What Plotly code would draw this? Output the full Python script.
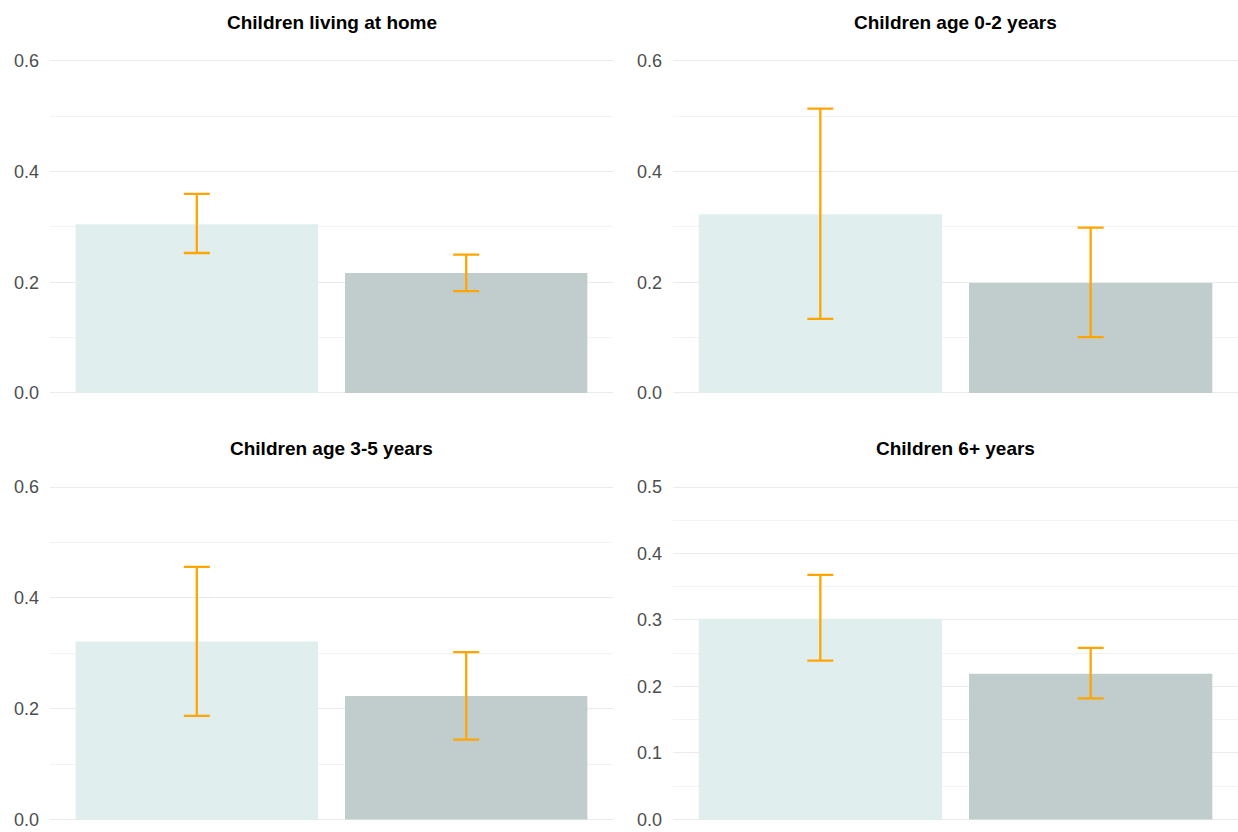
import plotly.graph_objects as go

titles = ["Children living at home", "Children age 0-2 years",
          "Children age 3-5 years", "Children 6+ years"]
groups = ["Group A", "Group B"]
means = [[0.305, 0.217], [0.323, 0.199], [0.321, 0.223], [0.302, 0.219]]
lowers = [[0.253, 0.184], [0.134, 0.101], [0.187, 0.144], [0.239, 0.182]]
uppers = [[0.360, 0.250], [0.514, 0.299], [0.456, 0.302], [0.368, 0.258]]
y_max = [0.6, 0.6, 0.6, 0.5]
major_dtick = [0.2, 0.2, 0.2, 0.1]
minor_dtick = [0.1, 0.1, 0.1, 0.05]

bar_colors = ["#E0EEEE", "#C1CDCD"]
err_color = "#FFA500"

W, H = 1238, 832
x_dom = [(50, 613), (673, 1238), (50, 613), (673, 1238)]
y_dom = [(61, 393), (61, 393), (487, 819.5), (487, 819.5)]
title_y = [22, 22, 448, 448]

fig = go.Figure()
for i in range(4):
    ax = "" if i == 0 else str(i + 1)
    m = means[i]
    fig.add_trace(go.Bar(
        x=[0, 1], y=m, width=0.9,
        marker=dict(color=bar_colors, line=dict(width=0)),
        error_y=dict(type="data", symmetric=False,
                     array=[u - v for u, v in zip(uppers[i], m)],
                     arrayminus=[v - l for v, l in zip(m, lowers[i])],
                     color=err_color, thickness=2.3, width=13),
        xaxis="x" + ax, yaxis="y" + ax, showlegend=False,
        hovertext=groups,
    ))
    x0, x1 = x_dom[i]
    ytop, ybot = y_dom[i]
    frac = 0.006
    pad = y_max[i] * frac
    pad_px = (ybot - ytop) * frac
    fig.layout["xaxis" + ax] = dict(
        domain=[x0 / W, x1 / W], range=[-0.545, 1.545],
        showticklabels=False, showgrid=False, zeroline=False,
        showline=False, ticks="", anchor="y" + ax, fixedrange=True)
    fig.layout["yaxis" + ax] = dict(
        domain=[1 - (ybot + pad_px) / H, 1 - (ytop - pad_px) / H],
        range=[-pad, y_max[i] + pad], anchor="x" + ax,
        tick0=0, dtick=major_dtick[i], tickformat=".1f",
        showgrid=True, gridcolor="#EBEBEB", gridwidth=1.3,
        zeroline=False, showline=False, ticks="",
        ticklabelstandoff=10,
        tickfont=dict(family="Liberation Sans, Arial", size=18, color="#4D4D4D"),
        minor=dict(tick0=0, dtick=minor_dtick[i], showgrid=True,
                   gridcolor="#F3F3F3", gridwidth=1),
        automargin=False)
    fig.add_annotation(
        text="<b>" + titles[i] + "</b>", xref="paper", yref="paper",
        x=(x0 + x1) / 2 / W, y=1 - title_y[i] / H, xanchor="center",
        yanchor="middle", showarrow=False,
        font=dict(family="Liberation Sans, Arial", size=19, color="#000000"))

fig.update_layout(
    width=W, height=H, margin=dict(l=0, r=0, t=0, b=0),
    paper_bgcolor="white", plot_bgcolor="white", bargap=0.1,
)
fig.write_html("out.html", config={"displayModeBar": False},
               post_script="document.body.style.margin='0';"
                           "document.body.style.overflow='hidden';")
